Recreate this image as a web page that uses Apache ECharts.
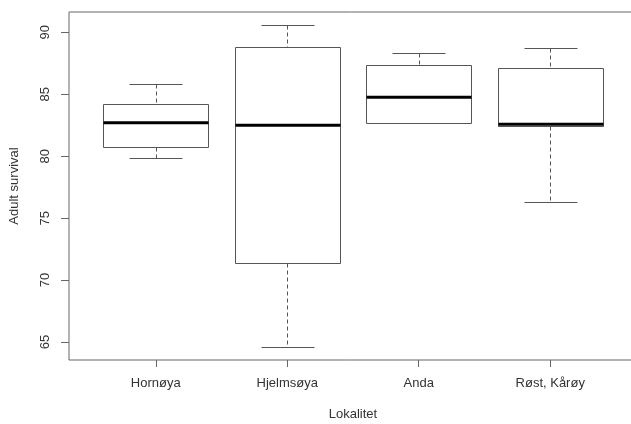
<!DOCTYPE html>
<html>
<head>
<meta charset="utf-8">
<script src="https://cdn.jsdelivr.net/npm/echarts@6/dist/echarts.min.js"></script>
<style>
html,body{margin:0;padding:0;background:#fff;}
#c{width:631px;height:424px;}
</style>
</head>
<body>
<div id="c"></div>
<script>
const categories = ['Hornøya', 'Hjelmsøya', 'Anda', 'Røst, Kårøy'];
const lowerWhisker = [79.85, 64.60, 82.65, 76.30];
const q1Values = [80.76, 71.34, 82.72, 82.46];
const medians = [82.70, 82.49, 84.75, 82.58];
const q3Values = [84.23, 88.84, 87.36, 87.14];
const upperWhisker = [85.85, 90.61, 88.35, 88.76];
const yTicks = [65, 70, 75, 80, 85, 90];
const xTicks = [1, 2, 3, 4];

const rows = categories.map((c, i) => [i + 1, lowerWhisker[i], q1Values[i], medians[i], q3Values[i], upperWhisker[i]]);

const chart = echarts.init(document.getElementById('c'), null, {renderer: 'canvas'});
const FONT = 'Liberation Sans, Arial, sans-serif';
const LINE = '#555';
const TXT = '#333';

function renderItem(params, api) {
  const x = api.value(0);
  const lo = api.value(1), q1 = api.value(2), med = api.value(3), q3 = api.value(4), hi = api.value(5);
  const half = 0.4, cap = 0.2;
  const snap = v => Math.round(v) + 0.5;
  const tl = api.coord([x - half, q3]);
  const br = api.coord([x + half, q1]);
  const cx = snap(api.coord([x, med])[0]);
  const yMed = api.coord([x, med])[1];
  const yLo = snap(api.coord([x, lo])[1]);
  const yHi = snap(api.coord([x, hi])[1]);
  const capL = snap(api.coord([x - cap, lo])[0]);
  const capR = snap(api.coord([x + cap, lo])[0]);
  const bx0 = snap(tl[0]), bx1 = snap(br[0]), by0 = snap(tl[1]), by1 = snap(br[1]);
  const solid = {stroke: LINE, lineWidth: 1, fill: null};
  const dashed = {stroke: LINE, lineWidth: 1, lineDash: [4, 3], fill: null};
  return {
    type: 'group',
    children: [
      {type: 'line', shape: {x1: cx, y1: yHi, x2: cx, y2: by0}, style: dashed},
      {type: 'line', shape: {x1: cx, y1: by1, x2: cx, y2: yLo}, style: dashed},
      {type: 'line', shape: {x1: capL, y1: yHi, x2: capR, y2: yHi}, style: solid},
      {type: 'line', shape: {x1: capL, y1: yLo, x2: capR, y2: yLo}, style: solid},
      {type: 'rect', shape: {x: bx0, y: by0, width: bx1 - bx0, height: by1 - by0}, style: {stroke: LINE, lineWidth: 1, fill: '#fff'}},
      {type: 'line', shape: {x1: bx0, y1: yMed, x2: bx1, y2: yMed}, style: {stroke: '#000', lineWidth: 3}}
    ]
  };
}

chart.setOption({
  backgroundColor: '#fff',
  animation: false,
  grid: {left: 69, top: 12, right: -6, bottom: 64, show: true, borderColor: '#666', borderWidth: 1,
    containLabel: false, outerBoundsMode: 'none'},
  xAxis: {
    type: 'value', min: 0.34, max: 4.66,
    name: 'Lokalitet', nameLocation: 'middle', nameGap: 48,
    nameTextStyle: {fontFamily: FONT, fontSize: 13, color: TXT},
    splitLine: {show: false},
    axisLine: {show: false},
    axisTick: {show: true, length: 7, inside: false, customValues: xTicks, lineStyle: {color: '#666'}},
    axisLabel: {customValues: xTicks, margin: 17, fontFamily: FONT, fontSize: 13, color: TXT,
      formatter: v => categories[Math.round(v) - 1] || ''}
  },
  yAxis: {
    type: 'value', min: 63.55, max: 91.64,
    name: 'Adult survival', nameLocation: 'middle', nameGap: 48, nameRotate: 90,
    nameTextStyle: {fontFamily: FONT, fontSize: 13, color: TXT},
    splitLine: {show: false},
    axisLine: {show: false},
    axisTick: {show: true, length: 8, inside: false, customValues: yTicks, lineStyle: {color: '#666'}},
    axisLabel: {customValues: yTicks, rotate: 90, margin: 17, fontFamily: FONT, fontSize: 13, color: TXT}
  },
  series: [{
    type: 'custom',
    renderItem: renderItem,
    encode: {x: 0, y: [1, 2, 3, 4, 5]},
    data: rows,
    clip: false
  }]
});
</script>
</body>
</html>
